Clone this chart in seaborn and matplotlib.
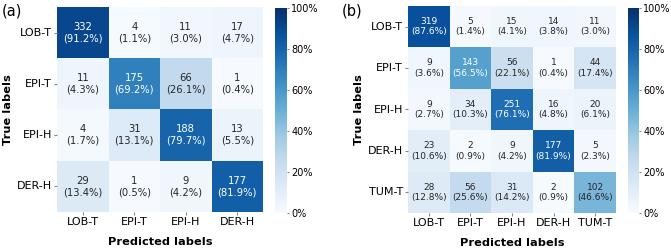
import numpy as np
import seaborn as sns
import matplotlib.pyplot as plt
from matplotlib.ticker import FuncFormatter

labels_a = ['LOB-T', 'EPI-T', 'EPI-H', 'DER-H']
counts_a = [[332, 4, 11, 17],
            [11, 175, 66, 1],
            [4, 31, 188, 13],
            [29, 1, 9, 177]]
pct_a = [[91.2, 1.1, 3.0, 4.7],
         [4.3, 69.2, 26.1, 0.4],
         [1.7, 13.1, 79.7, 5.5],
         [13.4, 0.5, 4.2, 81.9]]

labels_b = ['LOB-T', 'EPI-T', 'EPI-H', 'DER-H', 'TUM-T']
counts_b = [[319, 5, 15, 14, 11],
            [9, 143, 56, 1, 44],
            [9, 34, 251, 16, 20],
            [23, 2, 9, 177, 5],
            [28, 56, 31, 2, 102]]
pct_b = [[87.6, 1.4, 4.1, 3.8, 3.0],
         [3.6, 56.5, 22.1, 0.4, 17.4],
         [2.7, 10.3, 76.1, 4.8, 6.1],
         [10.6, 0.9, 4.2, 81.9, 2.3],
         [12.8, 25.6, 14.2, 0.9, 46.6]]

W, H = 671, 249
fig = plt.figure(figsize=(W / 100, H / 100), dpi=100)


def box(x0, y0, x1, y1):
    return [x0 / W, 1 - y1 / H, (x1 - x0) / W, (y1 - y0) / H]


def draw(ax, cax, labels, counts, pct, tag, tag_x, annot_size):
    counts = np.array(counts)
    pct = np.array(pct)
    annot = np.array([[f'{c}\n({p:.1f}%)' for c, p in zip(rc, rp)]
                      for rc, rp in zip(counts, pct)])
    sns.heatmap(pct, ax=ax, cbar_ax=cax, cmap='Blues', vmin=0, vmax=100,
                annot=annot, fmt='', annot_kws={'size': annot_size},
                xticklabels=labels, yticklabels=labels,
                cbar_kws={'ticks': [0, 20, 40, 60, 80, 100],
                          'format': FuncFormatter(lambda v, p: f'{v:.0f}%')})
    ax.set_xlabel('Predicted labels', fontsize=8.2, fontweight='bold', labelpad=7)
    ax.set_ylabel('True labels', fontsize=8.2, fontweight='bold', labelpad=3)
    ax.tick_params(axis='both', labelsize=8, length=2.2, pad=1.5, color='#888888')
    ax.set_yticklabels(labels, rotation=0)
    ax.set_xticklabels(labels, rotation=0)
    cax.tick_params(labelsize=7.0, length=1.5, pad=1.5, color='#888888')
    ax.collections[0].colorbar.outline.set_visible(False)
    fig.text(tag_x / W, 1 - 11 / H, tag, fontsize=10.5, ha='left', va='center')


ax1 = fig.add_axes(box(57, 7, 263, 212))
cax1 = fig.add_axes(box(275, 8, 287, 213))
draw(ax1, cax1, labels_a, counts_a, pct_a, '(a)', 2, 7.2)

ax2 = fig.add_axes(box(408, 6, 616, 213))
cax2 = fig.add_axes(box(628, 8, 639, 213))
draw(ax2, cax2, labels_b, counts_b, pct_b, '(b)', 342, 6.5)

fig.savefig('out.png', dpi=100)
